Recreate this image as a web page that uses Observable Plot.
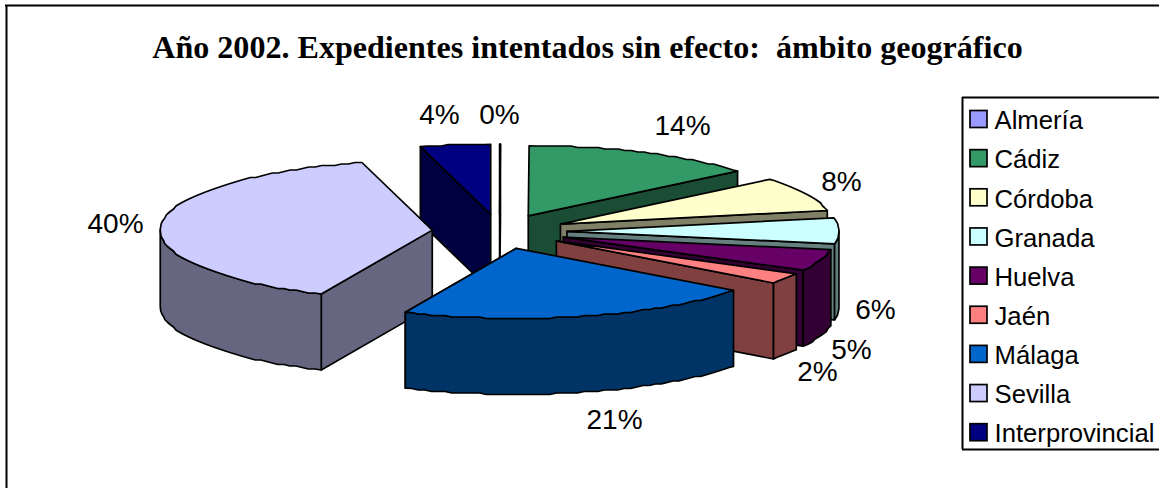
<!DOCTYPE html>
<html>
<head>
<meta charset="utf-8">
<style>html,body{margin:0;padding:0;background:#fff;overflow:hidden}</style>
<script src="https://cdn.jsdelivr.net/npm/d3@7"></script>
<script src="https://cdn.jsdelivr.net/npm/@observablehq/plot@0.6"></script>
</head>
<body>
<div id="chart"></div>
<script>
// --- data ---
const titleText = "Año 2002. Expedientes intentados sin efecto:  ámbito geográfico";
const provinces = ["Almería","Cádiz","Córdoba","Granada","Huelva","Jaén","Málaga","Sevilla","Interprovincial"];
const shares = [0.05,14.05,8,6,5,2.5,21.6,39.5,4.2];
const shareLabels = ["0%","14%","8%","6%","5%","2%","21%","40%","4%"];
const sliceColors = ["#9999FF","#339966","#FFFFCC","#CCFFFF","#660066","#FF8080","#0066CC","#CCCCFF","#000080"];

// --- layout (pixels of the 1159x488 page) ---
const W = 1159, H = 488;
const pie = {cx: 499, cy: 231, rx: 272, ry: 70, depth: 76, explode: 0.248, stair: 1.5};
const paintOrder = [0,8,1,2,3,4,5,7,6];
const labelAt = [[499,115],[682,126],[841,182],[875,310],[851,350],[817,372],[614,420],[115,224],[439,115]];
const legend = {left: 962, top: 97, bottom: 449, swatchX1: 970, swatchX2: 987, firstY: 120.5, stepY: 39.15, textX: 994};

// --- geometry derived from the shares ---
const total = d3.sum(shares);
const ends = d3.cumsum(shares).map(v => v / total * 360);
const rad = a => a * Math.PI / 180;
const half = c => { const r = d3.rgb(c); return d3.rgb(r.r/2, r.g/2, r.b/2).formatHex(); };

const polys = [];
function addPoly(id, fill, pts) {
  pts.concat([pts[0]]).forEach(p => polys.push({id, fill, x: p[0], y: p[1]}));
}
paintOrder.forEach(i => {
  const a0 = i ? ends[i-1] : 0, a1 = ends[i], mid = (a0 + a1) / 2;
  const ax = pie.cx + pie.explode * pie.rx * Math.sin(rad(mid));
  const ay = pie.cy - pie.explode * pie.ry * Math.cos(rad(mid));
  const rim = a => [ax + pie.rx * Math.sin(rad(a)), ay - pie.ry * Math.cos(rad(a))];
  const arc = (from, to) => {
    const n = Math.max(1, Math.ceil(Math.abs(to - from) / 1.5));
    return d3.range(n + 1).map(k => {
      const p = rim(from + (to - from) * k / n);
      // the outline of the reference is a coarse, stepped polygon
      return (k === 0 || k === n) ? p : [p[0], Math.round(p[1] / pie.stair) * pie.stair];
    });
  };
  const down = p => [p[0], p[1] + pie.depth];
  const color = sliceColors[i], wall = half(color);
  const cutAngle = a0 >= 180 ? a0 : a1;
  const cut = [[ax, ay], rim(cutAngle), down(rim(cutAngle)), down([ax, ay])];
  addPoly(`c${i}`, wall, cut);
  const from = Math.max(a0, 90), to = Math.min(a1, 270);
  if (to > from) {
    const top = arc(from, to);
    addPoly(`r${i}`, wall, top.concat(top.slice().reverse().map(down)));
  }
  addPoly(`t${i}`, color, [[ax, ay]].concat(arc(a0, a1)));
});

const labels = provinces.map((p, i) => ({t: shareLabels[i], x: labelAt[i][0], y: labelAt[i][1]}));
const legendRows = provinces.map((p, i) => ({name: p, color: sliceColors[i], y: legend.firstY + i * legend.stepY}));

const chart = Plot.plot({
  width: W, height: H, margin: 0,
  x: {domain: [0, W], range: [0, W], axis: null},
  y: {domain: [0, H], range: [0, H], axis: null},
  style: {background: "#fff"},
  marks: [
    Plot.ruleX([6], {y1: 5, y2: H, stroke: "#000", strokeWidth: 2}),
    Plot.ruleY([5], {x1: 5, x2: W, stroke: "#000", strokeWidth: 2}),
    Plot.text([titleText], {x: 587, y: 47, text: d => d, fontFamily: "Liberation Serif", fontWeight: "bold", fontSize: 32.1, fill: "#000"}),
    Plot.line(polys, {x: "x", y: "y", z: "id", fill: "fill", stroke: "#000", strokeWidth: 1.7, strokeLinejoin: "round", curve: "linear"}),
    Plot.text(labels, {x: "x", y: "y", text: "t", fontFamily: "Liberation Sans", fontSize: 28, fill: "#000"}),
    Plot.ruleX([legend.left], {y1: legend.top, y2: legend.bottom, stroke: "#000", strokeWidth: 2}),
    Plot.ruleY([legend.top, legend.bottom], {x1: legend.left, x2: W, stroke: "#000", strokeWidth: 2}),
    Plot.rect(legendRows, {x1: legend.swatchX1, x2: legend.swatchX2, y1: d => d.y - 10, y2: d => d.y + 7, fill: "color", stroke: "#000", strokeWidth: 1.7}),
    Plot.text(legendRows, {x: legend.textX, y: "y", text: "name", textAnchor: "start", fontFamily: "Liberation Sans", fontSize: 25.7, fill: "#000"})
  ]
});
document.getElementById("chart").appendChild(chart);
</script>
</body>
</html>
